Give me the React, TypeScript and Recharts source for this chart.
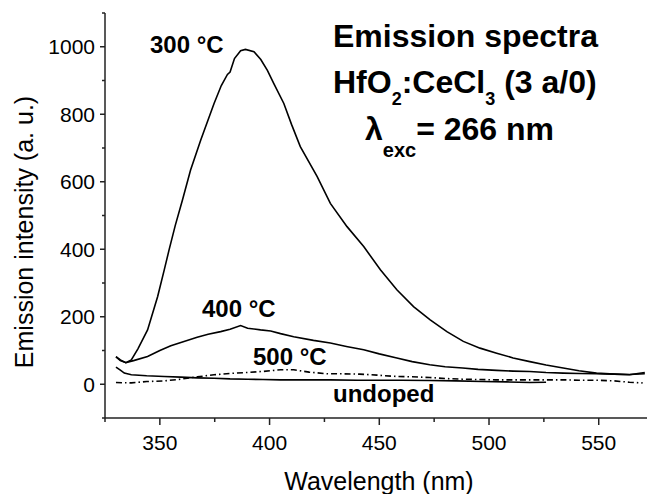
import React from 'react';
import { LineChart, Line, XAxis, YAxis } from 'recharts';

// wavelength (nm) / emission intensity (a. u.)
const wl300 = [330, 332, 334.5, 337, 340, 344.4, 349, 352, 354.2, 357, 360.3, 364, 368.6, 374.7, 378, 380.8, 382, 384, 386.8, 389, 392.9, 396, 399, 402, 406.5, 410, 414, 421.7, 427.7, 435.3, 442.9, 450.5, 458, 465.6, 473.2, 480.8, 488.3, 495.9, 503.5, 511, 518.6, 526, 533.8, 541, 549, 557, 564, 571];
const int300 = [81, 70, 64, 72, 105, 161, 260, 339, 398, 470, 546, 635, 723, 832, 885, 918, 925, 965, 988, 992, 985, 962, 930, 890, 832, 770, 704, 615, 536, 467, 408, 339, 280, 230, 191, 156, 127, 107, 92, 78, 67, 57, 48, 40, 33, 30, 28, 35];

const wl400 = [330, 332, 334.5, 338, 344.4, 350, 355, 361, 367, 372, 377.7, 382, 386.8, 390, 395.9, 400.5, 405, 411, 420, 427.7, 435, 442.9, 450, 458, 465, 473, 480, 488, 495, 503.5, 511, 518.6, 526, 533.8, 541, 549, 557, 564, 571];
const int400 = [82, 72, 64, 70, 82, 100, 114, 127, 139, 148, 156, 163, 174, 166, 161, 158, 150, 141, 130, 122, 112, 102, 90, 78, 67, 58, 52, 48, 44, 41, 39, 38, 35, 33, 32, 31, 30, 29, 31];

const wl500 = [330, 337, 344, 352, 359.5, 367, 374.7, 382, 389.9, 397, 405, 411, 418, 426, 433, 441, 449, 458, 465, 473, 480, 488, 495, 503, 511, 519, 526, 534, 541, 549, 557, 564, 570];
const int500 = [5, 4, 8, 10, 15, 22, 28, 32, 35, 38, 43, 43, 36, 31, 31, 30, 27, 23, 22, 20, 17, 15, 14, 13, 13, 13, 13, 13, 12, 12, 10, 6, 4];

const wlUndoped = [330, 332, 333.8, 337, 344, 352, 359.5, 367, 374.7, 382, 390, 397, 405, 415, 427.7, 440, 450, 460, 473, 485, 497, 508, 518.6, 526];
const intUndoped = [51, 42, 33, 28, 25, 23, 21, 19, 18, 16, 15, 14, 13, 13, 13, 12, 12, 12, 11, 10, 8, 7, 5, 6];

const xTicks = [325, 350, 375, 400, 425, 450, 475, 500, 525, 550];
const xLabelTicks = [350, 400, 450, 500, 550];
const yTicks = [-100, 0, 100, 200, 300, 400, 500, 600, 700, 800, 900, 1000, 1100];
const yLabelTicks = [0, 200, 400, 600, 800, 1000];

const FONT = '"Liberation Sans", Arial, Helvetica, sans-serif';
const INK = '#000';

const toPoints = (wl: number[], val: number[]) => wl.map((x, i) => ({ x, y: val[i] }));

const BottomTick = ({ x, y, payload }: any) => {
  const major = xLabelTicks.includes(payload.value);
  return (
    <g>
      <line x1={x} y1={y} x2={x} y2={y + (major ? 7 : 4)} stroke="#222" strokeWidth={1.5} />
      {major && (
        <text x={x} y={y + 32} textAnchor="middle" fontSize={21} fontFamily={FONT} fill={INK}>
          {payload.value}
        </text>
      )}
    </g>
  );
};

const TopTick = ({ x, y }: any) => (
  <line x1={x} y1={y} x2={x} y2={y + 4} stroke="#222" strokeWidth={1.5} />
);

const LeftTick = ({ x, y, payload }: any) => {
  const major = yLabelTicks.includes(payload.value);
  return (
    <g>
      <line x1={x} y1={y} x2={x - (major ? 5 : 3)} y2={y} stroke="#222" strokeWidth={1.5} />
      {major && (
        <text x={x - 10} y={y + 7.5} textAnchor="end" fontSize={21} fontFamily={FONT} fill={INK}>
          {payload.value}
        </text>
      )}
    </g>
  );
};

const Annotations = () => (
  <svg width={647} height={494} style={{ position: 'absolute', left: 0, top: 0, pointerEvents: 'none' }}>
    <g fontFamily={FONT} fill={INK} fontWeight="bold">
      <text x={150} y={53} fontSize={24}>300 °C</text>
      <text x={202} y={317} fontSize={24}>400 °C</text>
      <text x={253} y={365} fontSize={24}>500 °C</text>
      <text x={333} y={402} fontSize={24}>undoped</text>
      <text x={333} y={47} fontSize={32}>Emission spectra</text>
      <text x={333} y={93} fontSize={32}>
        HfO<tspan dy={12} fontSize={18}>2</tspan>
        <tspan dy={-12}>:CeCl</tspan>
        <tspan dy={12} fontSize={18}>3</tspan>
        <tspan dy={-12}> (3 a/0)</tspan>
      </text>
      <text x={365} y={140} fontSize={32}>
        λ<tspan dy={17} fontSize={20}>exc</tspan>
        <tspan dy={-17}>= 266 nm</tspan>
      </text>
    </g>
    <g fontFamily={FONT} fill={INK} fontSize={25}>
      <text x={379} y={490} textAnchor="middle">Wavelength (nm)</text>
      <text x={33} y={232} textAnchor="middle" transform="rotate(-90 33 232)">Emission intensity (a. u.)</text>
    </g>
  </svg>
);

const App = () => {
  return (
    <div style={{ position: 'fixed', left: 0, top: 0, width: 647, height: 494, background: '#fff' }}>
      <LineChart width={647} height={494} margin={{ top: 13, right: 0, bottom: 0, left: 0 }}>
        <XAxis
          xAxisId="bottom"
          dataKey="x"
          type="number"
          domain={[325, 572]}
          allowDataOverflow
          ticks={xTicks}
          interval={0}
          tickSize={0}
          tickMargin={0}
          tickLine={false}
          tick={<BottomTick />}
          height={76}
          stroke="#222"
          strokeWidth={1.5}
        />
        <XAxis
          xAxisId="top"
          orientation="top"
          dataKey="x"
          type="number"
          domain={[325, 572]}
          allowDataOverflow
          ticks={xTicks}
          interval={0}
          tickSize={0}
          tickMargin={0}
          tickLine={false}
          tick={<TopTick />}
          height={0}
          stroke="#222"
          strokeWidth={1.5}
        />
        <YAxis
          dataKey="y"
          type="number"
          domain={[-100, 1100]}
          allowDataOverflow
          ticks={yTicks}
          interval={0}
          tickSize={0}
          tickMargin={0}
          tickLine={false}
          tick={<LeftTick />}
          width={105}
          stroke="#222"
          strokeWidth={1.5}
        />
        <Line xAxisId="bottom" data={toPoints(wlUndoped, intUndoped)} dataKey="y" type="linear" stroke="#000" strokeWidth={1.6} dot={false} isAnimationActive={false} />
        <Line xAxisId="bottom" data={toPoints(wl500, int500)} dataKey="y" type="linear" stroke="#000" strokeWidth={1.6} strokeDasharray="6 3 1.5 3" dot={false} isAnimationActive={false} />
        <Line xAxisId="bottom" data={toPoints(wl400, int400)} dataKey="y" type="linear" stroke="#000" strokeWidth={1.6} dot={false} isAnimationActive={false} />
        <Line xAxisId="bottom" data={toPoints(wl300, int300)} dataKey="y" type="linear" stroke="#000" strokeWidth={1.6} dot={false} isAnimationActive={false} />
      </LineChart>
      <Annotations />
    </div>
  );
};

export default App;
